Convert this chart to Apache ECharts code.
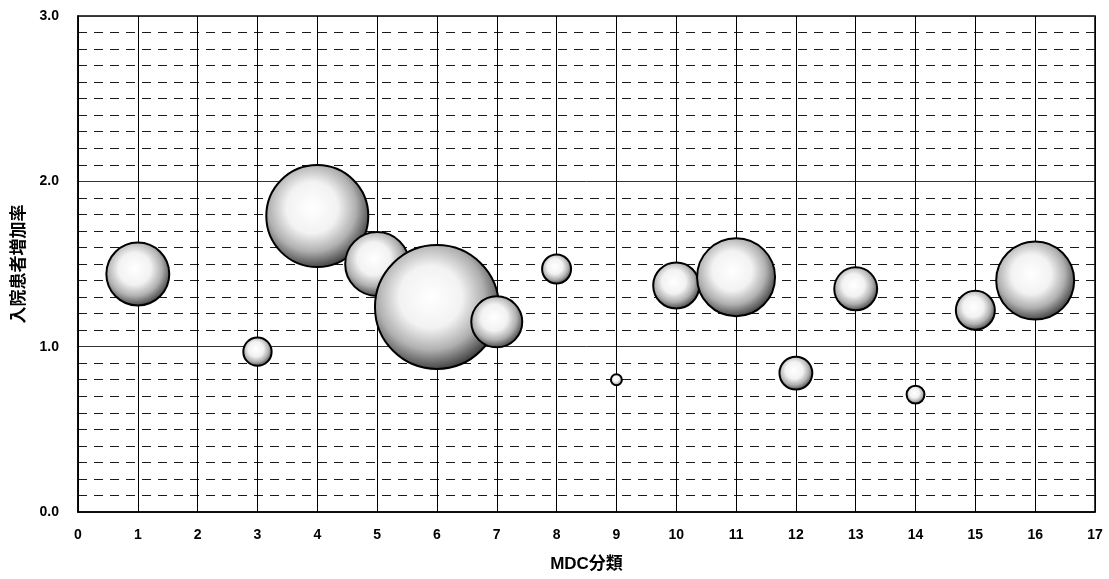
<!DOCTYPE html>
<html><head><meta charset="utf-8">
<script src="https://cdn.jsdelivr.net/npm/echarts@6/dist/echarts.min.js"></script>
<style>html,body{margin:0;padding:0;background:#fff}#c{width:1109px;height:579px}</style>
</head><body><div id="c"></div>
<script>
// MDC category (x), inpatient increase rate (y), bubble size (relative area)
const mdc   = [1, 3, 4, 5, 6, 7, 8, 9, 10, 11, 12, 13, 14, 15, 16];
const rate  = [1.44, 0.97, 1.79, 1.50, 1.24, 1.15, 1.47, 0.80, 1.37, 1.42, 0.84, 1.35, 0.71, 1.22, 1.40];
const sizes = [99, 20, 260, 102, 384, 65, 21, 3, 53, 152, 27, 46, 8, 38, 152];
const xTicks = [0,1,2,3,4,5,6,7,8,9,10,11,12,13,14,15,16,17];
const yTicks = [0, 1, 2, 3];

const data = mdc.map((x, i) => [x, rate[i], sizes[i]]);
const font = '"Liberation Sans", Arial, "Noto Sans CJK JP", sans-serif';
const chart = echarts.init(document.getElementById('c'));
chart.setOption({
  animation: false,
  backgroundColor: '#fff',
  grid: { left: 78, right: 14, top: 16, bottom: 67, show: true, borderColor: '#000', borderWidth: 1.5, backgroundColor: 'transparent' },
  xAxis: {
    type: 'value', min: xTicks[0], max: xTicks[xTicks.length - 1], interval: 1,
    name: 'MDC分類', nameLocation: 'middle', nameGap: 44,
    nameTextStyle: { fontFamily: font, fontWeight: 'bold', fontSize: 17, color: '#000' },
    axisLine: { show: true, lineStyle: { color: '#000', width: 1.5 } },
    axisTick: { show: false },
    axisLabel: { margin: 16, fontFamily: font, fontWeight: 'bold', fontSize: 14, color: '#000' },
    splitLine: { show: true, lineStyle: { color: '#000', width: 1 } }
  },
  yAxis: {
    type: 'value', min: yTicks[0], max: yTicks[yTicks.length - 1], interval: 1,
    name: '入院患者増加率', nameLocation: 'middle', nameGap: 50, nameRotate: 90,
    nameTextStyle: { fontFamily: font, fontWeight: 'bold', fontSize: 17, color: '#000' },
    axisLine: { show: true, lineStyle: { color: '#000', width: 1.5 } },
    axisTick: { show: false },
    axisLabel: { margin: 19, fontFamily: font, fontWeight: 'bold', fontSize: 14, color: '#000', formatter: v => v.toFixed(1) },
    splitLine: { show: true, lineStyle: { color: '#333', width: 1 } },
    minorTick: { show: false, splitNumber: 10 },
    minorSplitLine: { show: true, lineStyle: { color: '#1a1a1a', width: 1, type: [9, 7] } }
  },
  series: [{
    type: 'scatter',
    data: data,
    symbolSize: d => 2 * Math.sqrt(d[2] * 10),
    itemStyle: {
      color: new echarts.graphic.RadialGradient(0.45, 0.42, 0.62, [
        { offset: 0, color: '#ffffff' },
        { offset: 0.4, color: '#f2f2f2' },
        { offset: 0.68, color: '#b0b0b0' },
        { offset: 0.88, color: '#5a5a5a' },
        { offset: 1, color: '#222222' }
      ]),
      borderColor: '#000', borderWidth: 2, opacity: 1
    }
  }]
});
</script></body></html>
